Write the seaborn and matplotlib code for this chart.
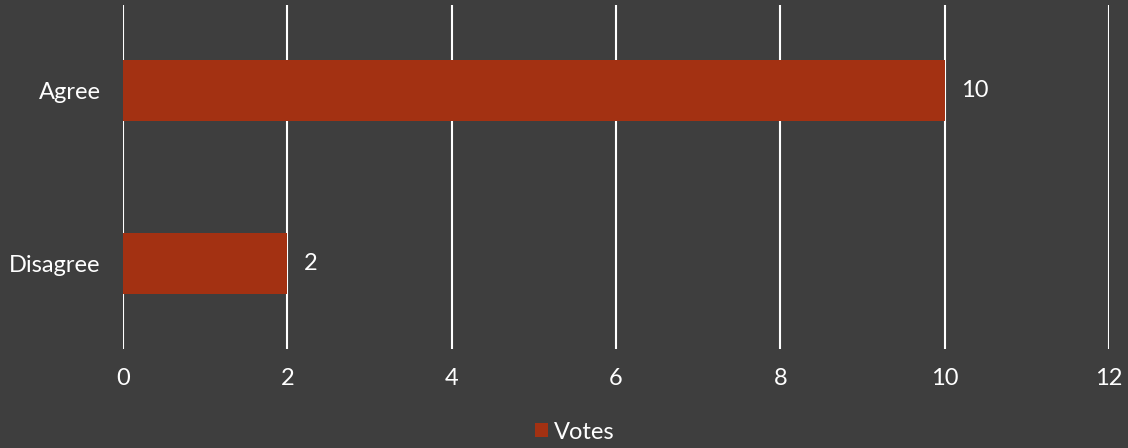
import matplotlib
matplotlib.use("Agg")
import matplotlib.pyplot as plt
from matplotlib.patches import Patch
import seaborn as sns
import pandas as pd

# Poll results
responses = ["Agree", "Disagree"]
votes = [10, 2]
series_name = "Votes"
x_ticks = [0, 2, 4, 6, 8, 10, 12]

BG = "#3E3E3E"
BAR = "#A33112"
FG = "white"
FS = 17

sns.set_theme(style="dark")
plt.rcParams["font.family"] = ["Lato", "DejaVu Sans"]

df = pd.DataFrame({"Response": responses, series_name: votes})

fig = plt.figure(figsize=(11.28, 4.48), dpi=100, facecolor=BG)
ax = fig.add_axes([123 / 1128, 99 / 448, 986 / 1128, 344 / 448])
ax.set_facecolor(BG)

sns.barplot(data=df, x=series_name, y="Response", orient="h", color=BAR,
            width=0.35, saturation=1, linewidth=0, ax=ax, zorder=3)

ax.set_xlim(0, 12)
ax.set_ylim(1.494, -0.494)
ax.set_xticks(x_ticks)
ax.set_xticklabels([str(t) for t in x_ticks])
ax.grid(False)
for t in x_ticks:
    ax.axvline(t, color=FG, lw=1.5, zorder=2)

for s in ax.spines.values():
    s.set_visible(False)

ax.tick_params(axis="x", length=0, pad=14, labelsize=FS, labelcolor=FG)
ax.tick_params(axis="y", length=0, pad=16, labelsize=FS, labelcolor=FG)
ax.set_xlabel("")
ax.set_ylabel("")

# value labels beside each bar
for container in ax.containers:
    ax.bar_label(container, labels=[str(v) for v in votes], padding=12,
                 color=FG, fontsize=FS)

handle = Patch(facecolor=BAR, edgecolor="none", label=series_name)
fig.legend(handles=[handle], loc="center", bbox_to_anchor=(575 / 1128, 1 - 432 / 448),
           frameon=False, fontsize=FS, labelcolor=FG, handlelength=0.55,
           handleheight=0.55, handletextpad=0.25, borderpad=0)

fig.savefig("out.png", dpi=100, facecolor=BG)
